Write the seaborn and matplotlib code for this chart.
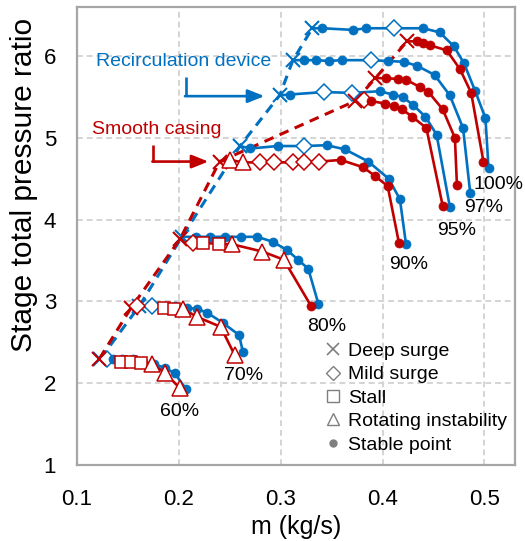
import matplotlib
matplotlib.use("Agg")
import matplotlib.pyplot as plt
import seaborn as sns
import pandas as pd
from matplotlib.lines import Line2D
from matplotlib.ticker import MultipleLocator

# ---------------- data ----------------
speeds = ["60%", "70%", "80%", "90%", "95%", "97%", "100%"]

# Recirculation device (blue)
rc60_m = [0.123, 0.129, 0.135, 0.144, 0.155, 0.165, 0.176, 0.186, 0.196, 0.207]
rc60_pr = [2.30, 2.30, 2.30, 2.30, 2.29, 2.26, 2.23, 2.19, 2.12, 1.93]
rc60_st = "XDoooooooo"
rc70_m = [0.161, 0.174, 0.186, 0.196, 0.208, 0.218, 0.228, 0.243, 0.259, 0.263]
rc70_pr = [2.94, 2.94, 2.94, 2.94, 2.92, 2.91, 2.86, 2.74, 2.59, 2.38]
rc70_st = "XDoooooooo"
rc80_m = [0.203, 0.217, 0.231, 0.245, 0.261, 0.277, 0.292, 0.306, 0.317, 0.327, 0.337]
rc80_pr = [3.79, 3.79, 3.79, 3.79, 3.79, 3.79, 3.73, 3.63, 3.51, 3.40, 2.97]
rc80_st = "Xoooooooooo"
rc90_m = [0.260, 0.270, 0.297, 0.323, 0.345, 0.363, 0.386, 0.406, 0.417, 0.423]
rc90_pr = [4.90, 4.87, 4.90, 4.90, 4.91, 4.86, 4.71, 4.50, 4.25, 3.70]
rc90_st = "XooDoooooo"
rc95_m = [0.299, 0.309, 0.342, 0.370, 0.397, 0.410, 0.420, 0.430, 0.442, 0.453, 0.466]
rc95_pr = [5.52, 5.53, 5.56, 5.55, 5.57, 5.53, 5.50, 5.40, 5.26, 5.04, 4.16]
rc95_st = "XoDDooooooo"
rc97_m = [0.312, 0.323, 0.335, 0.347, 0.360, 0.389, 0.405, 0.421, 0.434, 0.451, 0.466, 0.479, 0.486]
rc97_pr = [5.95, 5.95, 5.95, 5.94, 5.95, 5.95, 5.94, 5.93, 5.88, 5.77, 5.52, 5.12, 4.33]
rc97_st = "XooooDooooooo"
rc100_m = [0.331, 0.341, 0.371, 0.384, 0.411, 0.440, 0.456, 0.470, 0.480, 0.491, 0.501, 0.504]
rc100_pr = [6.34, 6.34, 6.32, 6.34, 6.34, 6.34, 6.29, 6.12, 5.91, 5.57, 5.24, 4.63]
rc100_st = "XoooDooooooo"

# Smooth casing (red)
sc60_m = [0.122, 0.143, 0.153, 0.163, 0.174, 0.186, 0.201]
sc60_pr = [2.30, 2.26, 2.26, 2.25, 2.24, 2.13, 1.94]
sc60_st = "XSSSTTT"
sc70_m = [0.153, 0.159, 0.185, 0.195, 0.204, 0.218, 0.241, 0.255]
sc70_pr = [2.92, 2.94, 2.92, 2.91, 2.91, 2.81, 2.69, 2.34]
sc70_st = "XDSSTTTT"
sc80_m = [0.201, 0.214, 0.224, 0.239, 0.252, 0.282, 0.303, 0.330]
sc80_pr = [3.76, 3.71, 3.72, 3.70, 3.70, 3.61, 3.51, 2.94]
sc80_st = "XDSSTTTo"
sc90_m = [0.240, 0.250, 0.263, 0.280, 0.293, 0.312, 0.323, 0.338, 0.359, 0.381, 0.393, 0.405, 0.416]
sc90_pr = [4.71, 4.73, 4.70, 4.70, 4.70, 4.70, 4.70, 4.71, 4.73, 4.64, 4.53, 4.41, 3.72]
sc90_st = "XTTDDDDDooooo"
sc95_m = [0.373, 0.382, 0.389, 0.402, 0.411, 0.419, 0.429, 0.443, 0.459]
sc95_pr = [5.45, 5.46, 5.45, 5.42, 5.39, 5.35, 5.26, 5.12, 4.17]
sc95_st = "XDooooooo"
sc97_m = [0.393, 0.403, 0.415, 0.423, 0.437, 0.445, 0.459, 0.471, 0.473]
sc97_pr = [5.73, 5.73, 5.72, 5.71, 5.62, 5.56, 5.35, 5.00, 4.42]
sc97_st = "Xoooooooo"
sc100_m = [0.424, 0.434, 0.440, 0.447, 0.463, 0.476, 0.487, 0.499]
sc100_pr = [6.18, 6.18, 6.16, 6.13, 6.07, 5.84, 5.55, 4.71]
sc100_st = "Xooooooo"

# speed label positions
label_m = [0.201, 0.264, 0.345, 0.426, 0.473, 0.499, 0.514]
label_pr = [1.66, 2.09, 2.69, 3.45, 3.87, 4.15, 4.43]

legend_labels = ["Deep surge", "Mild surge", "Stall", "Rotating instability", "Stable point"]

# ---------------- build table ----------------
rc = dict(zip(speeds, [(rc60_m, rc60_pr, rc60_st), (rc70_m, rc70_pr, rc70_st),
                       (rc80_m, rc80_pr, rc80_st), (rc90_m, rc90_pr, rc90_st),
                       (rc95_m, rc95_pr, rc95_st), (rc97_m, rc97_pr, rc97_st),
                       (rc100_m, rc100_pr, rc100_st)]))
sc = dict(zip(speeds, [(sc60_m, sc60_pr, sc60_st), (sc70_m, sc70_pr, sc70_st),
                       (sc80_m, sc80_pr, sc80_st), (sc90_m, sc90_pr, sc90_st),
                       (sc95_m, sc95_pr, sc95_st), (sc97_m, sc97_pr, sc97_st),
                       (sc100_m, sc100_pr, sc100_st)]))
rows = []
for cfg, curves in [("Smooth casing", sc), ("Recirculation device", rc)]:
    for si, sp in enumerate(speeds):
        m, pr, st = curves[sp]
        for i, (a, b, c) in enumerate(zip(m, pr, st)):
            rows.append(dict(cfg=cfg, speed=sp, sidx=si, m=a, pr=b, state=c, idx=i))
df = pd.DataFrame(rows)

BLUE = "#0070C0"
RED = "#C00000"
GRAY = "#A6A6A6"
palette = {"Smooth casing": RED, "Recirculation device": BLUE}

# ---------------- figure ----------------
sns.set_style("white")
plt.rcParams["font.family"] = ["Liberation Sans", "DejaVu Sans"]
plt.rcParams["text.color"] = "black"
plt.rcParams["axes.labelcolor"] = "black"

fig = plt.figure(figsize=(5.25, 5.41), dpi=100)
ax = fig.add_axes([77 / 525, 1 - 465 / 541, 438 / 525, 458 / 541])

# solid speed lines
for cfg in ["Recirculation device", "Smooth casing"]:
    sub = df[df.cfg == cfg]
    sns.lineplot(data=sub, x="m", y="pr", units="speed", estimator=None, sort=False,
                 color=palette[cfg], lw=1.9, legend=False, ax=ax, zorder=2)

# dashed surge lines
surge = df[df.state == "X"].sort_values(["cfg", "sidx"])
for cfg in ["Recirculation device", "Smooth casing"]:
    sub = surge[surge.cfg == cfg]
    sns.lineplot(data=sub, x="m", y="pr", estimator=None, sort=False,
                 color=palette[cfg], lw=2.2, linestyle=(0, (3.2, 2.2)),
                 legend=False, ax=ax, zorder=2)

marker_style = {
    "X": dict(marker="x", ms=9.5, mew=1.5),
    "D": dict(marker="D", ms=8, mew=1.1, mfc="white"),
    "S": dict(marker="s", ms=9, mew=1.1, mfc="white"),
    "T": dict(marker="^", ms=11, mew=1.1, mfc="white"),
    "o": dict(marker="o", ms=6.5, mew=0.5),
}
for cfg in ["Recirculation device", "Smooth casing"]:
    for st, kw in marker_style.items():
        sub = df[(df.cfg == cfg) & (df.state == st)]
        if sub.empty:
            continue
        kws = dict(kw)
        kws.setdefault("mfc", palette[cfg])
        sns.lineplot(data=sub, x="m", y="pr", units="speed", estimator=None, sort=False,
                     color=palette[cfg], linestyle="", mec=palette[cfg],
                     legend=False, ax=ax, zorder=3, **kws)

# speed labels
for lab, xm, yp in zip(speeds, label_m, label_pr):
    ax.text(xm, yp, lab, fontsize=14, ha="center", va="center", color="black")

# annotations with elbow arrows
rc_text_xy = (0.205, 5.93)
sc_text_xy = (0.178, 5.10)
rc_arrow = [(0.207, 5.75), (0.207, 5.51), (0.284, 5.51)]
sc_arrow = [(0.175, 4.91), (0.175, 4.71), (0.229, 4.71)]
ax.text(*rc_text_xy, "Recirculation device", color=BLUE, fontsize=14, ha="center", va="center")
ax.text(*sc_text_xy, "Smooth casing", color=RED, fontsize=14, ha="center", va="center")
for pts, col in [(rc_arrow, BLUE), (sc_arrow, RED)]:
    ax.plot([pts[0][0], pts[1][0]], [pts[0][1], pts[1][1]], color=col, lw=1.9,
            solid_capstyle="butt")
    ax.annotate("", xy=pts[2], xytext=(pts[1][0] - 0.001, pts[1][1]),
                arrowprops=dict(arrowstyle="-|>,head_length=1.0,head_width=0.4",
                                color=col, lw=1.9, shrinkA=0, shrinkB=0))

# axes
ax.set_xlim(0.1, 0.53)
ax.set_ylim(1, 6.6)
ax.xaxis.set_minor_locator(MultipleLocator(0.02))
ax.yaxis.set_minor_locator(MultipleLocator(0.2))
ax.set_xticks([0.1, 0.2, 0.3, 0.4, 0.5])
ax.set_xticklabels(["0.1", "0.2", "0.3", "0.4", "0.5"])
ax.set_yticks([1, 2, 3, 4, 5, 6])
ax.set_yticklabels(["1", "2", "3", "4", "5", "6"])
ax.grid(True, which="major", color="#D4D4D4", linestyle=(0, (3, 2)), lw=1.4, zorder=0)
ax.set_axisbelow(True)
for s in ax.spines.values():
    s.set_color(GRAY)
    s.set_linewidth(1.6)
ax.tick_params(which="both", direction="in", color=GRAY, width=1.3, length=4.5,
               labelsize=16, labelcolor="black")
ax.tick_params(axis="x", which="major", pad=17)
ax.tick_params(axis="y", which="major", pad=15)
ax.set_xlabel("m (kg/s)", fontsize=18, labelpad=4)
ax.set_ylabel("Stage total pressure ratio", fontsize=21.5)
ax.yaxis.set_label_coords(-0.09, 0.612)

# legend
lg_gray = "#7F7F7F"
handles = [
    Line2D([], [], ls="", marker="x", color=lg_gray, ms=8, mew=1.2),
    Line2D([], [], ls="", marker="D", mfc="white", mec=lg_gray, ms=7, mew=1.0),
    Line2D([], [], ls="", marker="s", mfc="white", mec=lg_gray, ms=8, mew=1.0),
    Line2D([], [], ls="", marker="^", mfc="white", mec=lg_gray, ms=9, mew=1.0),
    Line2D([], [], ls="", marker="o", color=lg_gray, ms=5),
]
ax.legend(handles, legend_labels, loc="upper left", bbox_to_anchor=(0.562, 0.268),
          frameon=False, fontsize=14, handlelength=1.0, handletextpad=0.3,
          labelspacing=0.3, borderpad=0, borderaxespad=0)

fig.savefig("out.png", dpi=100)
